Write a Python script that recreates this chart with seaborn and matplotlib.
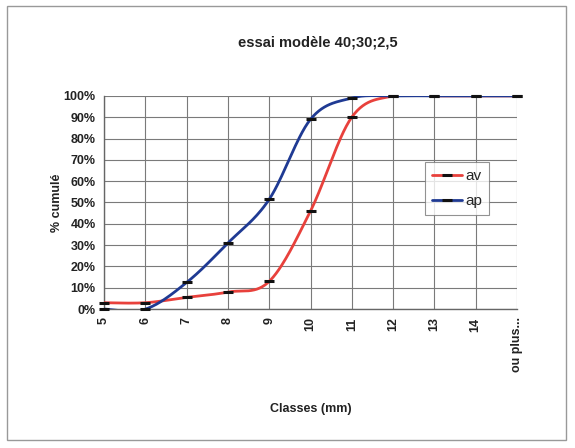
import numpy as np
import pandas as pd
import matplotlib
matplotlib.use("Agg")
import matplotlib.pyplot as plt
import seaborn as sns
from matplotlib.patches import Rectangle
from matplotlib.lines import Line2D

classes = ["5", "6", "7", "8", "9", "10", "11", "12", "13", "14", "ou plus..."]
av = [3, 3, 5.5, 8, 13, 46, 90, 100, 100, 100, 100]
ap = [0, 0, 12.5, 31, 51.5, 89, 99, 100, 100, 100, 100]
yticks = [0, 10, 20, 30, 40, 50, 60, 70, 80, 90, 100]
ytick_labels = [f"{v}%" for v in yticks]

series_colors = {"av": "#e8413c", "ap": "#1f3a93"}


def smooth(xs, ys, n=30):
    """Excel-style smoothed line (Bezier through points)."""
    P = np.column_stack([xs, ys]).astype(float)
    m = len(P)
    out = []
    for i in range(m - 1):
        p0 = P[i - 1] if i > 0 else P[i]
        p1 = P[i]
        p2 = P[i + 1]
        p3 = P[i + 2] if i + 2 < m else P[i + 1]
        c1 = p1 + (p2 - p0) / 6.0
        c2 = p2 - (p3 - p1) / 6.0
        t = np.linspace(0, 1, n, endpoint=(i == m - 2))[:, None]
        seg = ((1 - t) ** 3) * p1 + 3 * ((1 - t) ** 2) * t * c1 + 3 * (1 - t) * t ** 2 * c2 + t ** 3 * p2
        out.append(seg)
    return np.vstack(out)


sns.set_style("white")
plt.rcParams["font.family"] = ["Liberation Sans", "DejaVu Sans"]

fig = plt.figure(figsize=(5.75, 4.48), dpi=100)
ax = fig.add_axes([0.181, 0.310, 0.718, 0.476])

xpos = np.arange(len(classes))
rows = []
for name, vals in (("av", av), ("ap", ap)):
    curve = smooth(xpos, vals)
    rows.append(pd.DataFrame({"x": curve[:, 0], "y": curve[:, 1], "serie": name}))
dense = pd.concat(rows, ignore_index=True)

pts = pd.concat([
    pd.DataFrame({"x": xpos, "y": av, "serie": "av"}),
    pd.DataFrame({"x": xpos, "y": ap, "serie": "ap"}),
], ignore_index=True)

sns.lineplot(data=dense, x="x", y="y", hue="serie", palette=series_colors, sort=False,
             estimator=None, units="serie", lw=2, ax=ax, legend=False, zorder=3)
for name in ("av", "ap"):
    sub = pts[pts["serie"] == name]
    ax.plot(sub["x"], sub["y"], ls="none", marker="_", ms=6.5, mew=2.2, color="#111111",
            zorder=4, clip_on=False)

handles = [Line2D([0], [0], color=series_colors[n], lw=2, marker="_", ms=6.5, mew=2.2,
                  markeredgecolor="#111111") for n in ("av", "ap")]
leg = ax.legend(handles, ["av", "ap"], loc="upper left", bbox_to_anchor=(0.777, 0.69),
                frameon=True, fancybox=False, edgecolor="#777777", fontsize=11,
                handlelength=2.0, handletextpad=0.2, labelspacing=0.75, borderpad=0.45,
                borderaxespad=0)
leg.get_frame().set_linewidth(0.8)

ax.set_xlim(0, len(classes) - 1)
ax.set_ylim(0, 100)
ax.set_xticks(xpos)
ax.set_xticklabels(classes, rotation=90, fontsize=9, fontweight="bold", color="#222222")
ax.set_yticks(yticks)
ax.set_yticklabels(ytick_labels, fontsize=9, fontweight="bold", color="#222222")
ax.grid(True, color="#7a7a7a", lw=0.8)
ax.set_axisbelow(True)
for s in ("top", "right"):
    ax.spines[s].set_visible(False)
for s in ("left", "bottom"):
    ax.spines[s].set_color("#666666")
    ax.spines[s].set_linewidth(1)
ax.tick_params(axis="both", length=3, color="#666666", pad=3, direction="out")

ax.set_xlabel("Classes (mm)", fontsize=9, fontweight="bold", color="#222222")
ax.xaxis.set_label_coords(0.5, -0.44)
ax.set_ylabel("% cumulé", fontsize=9, fontweight="bold", color="#222222")
ax.yaxis.set_label_coords(-0.10, 0.5)
fig.text(0.553, 0.905, "essai modèle 40;30;2,5", ha="center", va="center",
         fontsize=10.5, fontweight="bold", color="#222222")

fig.patches.append(Rectangle((0.012, 0.018), 0.972, 0.968, transform=fig.transFigure,
                             fill=False, edgecolor="#999999", lw=1))

fig.savefig("out.png", dpi=100)
